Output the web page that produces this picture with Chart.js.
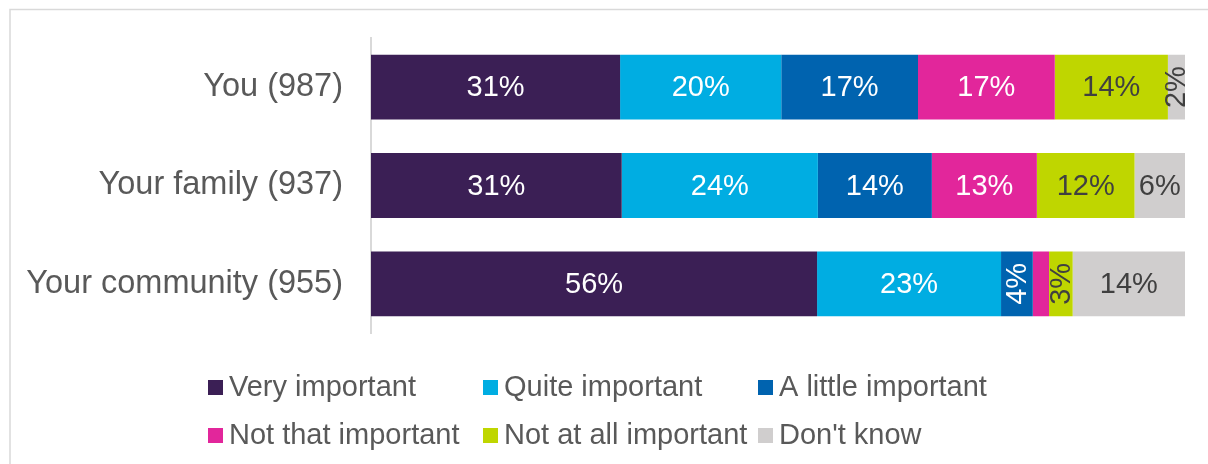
<!DOCTYPE html>
<html>
<head>
<meta charset="utf-8">
<script src="https://cdn.jsdelivr.net/npm/chart.js@4/dist/chart.umd.min.js"></script>
<style>
  html, body { margin: 0; padding: 0; background: #fff; }
  #wrap { width: 1208px; height: 464px; }
</style>
</head>
<body>
<div id="wrap"><canvas id="importanceChart" width="1208" height="464"></canvas></div>
<script>
// categories (respondent base in brackets)
const categories = ['You (987)', 'Your family (937)', 'Your community (955)'];
const seriesNames = ['Very important', 'Quite important', 'A little important',
                     'Not that important', 'Not at all important', "Don't know"];
const seriesColors = ['#3b1f55', '#00ade2', '#0063af', '#e2269b', '#bfd600', '#d0cece'];
const labelColors = ['#ffffff', '#ffffff', '#ffffff', '#ffffff', '#404040', '#404040'];

// bar widths (% of respondents)
const veryImportant = [30.6, 30.8, 54.8];
const quiteImportant = [19.8, 24.1, 22.6];
const littleImportant = [16.8, 14.0, 3.9];
const notThatImportant = [16.8, 12.9, 2.0];
const notAtAllImportant = [13.9, 12.0, 2.9];
const dontKnow = [2.1, 6.2, 13.8];

// printed labels (null = no label shown)
const veryLabels = ['31%', '31%', '56%'];
const quiteLabels = ['20%', '24%', '23%'];
const littleLabels = ['17%', '14%', '4%'];
const notThatLabels = ['17%', '13%', null];
const notAtAllLabels = ['14%', '12%', '3%'];
const dontKnowLabels = ['2%', '6%', '14%'];

const seriesData = [veryImportant, quiteImportant, littleImportant, notThatImportant, notAtAllImportant, dontKnow];
const seriesLabels = [veryLabels, quiteLabels, littleLabels, notThatLabels, notAtAllLabels, dontKnowLabels];

const FONT = '"Liberation Sans", Arial, sans-serif';

// frame lines at top and left
const framePlugin = {
    id: 'frame',
    beforeDraw(chart) {
        const ctx = chart.ctx;
        ctx.save();
        ctx.strokeStyle = '#d9d9d9';
        ctx.lineWidth = 1.5;
        ctx.beginPath();
        ctx.moveTo(10, chart.height);
        ctx.lineTo(10, 9.5);
        ctx.lineTo(chart.width, 9.5);
        ctx.stroke();
        ctx.restore();
    }
};

// value labels inside the bars, rotated when the bar is too narrow
const barLabelPlugin = {
    id: 'barLabels',
    afterDatasetsDraw(chart) {
        const ctx = chart.ctx;
        ctx.save();
        ctx.font = '29px ' + FONT;
        ctx.textAlign = 'center';
        ctx.textBaseline = 'middle';
        chart.data.datasets.forEach((ds, i) => {
            const meta = chart.getDatasetMeta(i);
            meta.data.forEach((bar, j) => {
                const txt = seriesLabels[i][j];
                if (!txt) return;
                const w = Math.abs(bar.x - bar.base);
                const cx = (bar.x + bar.base) / 2;
                const cy = bar.y;
                ctx.fillStyle = labelColors[i];
                const tw = ctx.measureText(txt).width;
                if (w < tw + 4) {
                    ctx.save();
                    ctx.translate(cx, cy);
                    ctx.rotate(-Math.PI / 2);
                    ctx.fillText(txt, 0, 1);
                    ctx.restore();
                } else {
                    ctx.fillText(txt, cx, cy + 1);
                }
            });
        });
        ctx.restore();
    }
};

// legend laid out as a 3-column grid
const gridLegendPlugin = {
    id: 'gridLegend',
    afterDraw(chart) {
        const ctx = chart.ctx;
        ctx.save();
        ctx.font = '29px ' + FONT;
        ctx.textAlign = 'left';
        ctx.textBaseline = 'alphabetic';
        seriesNames.forEach((name, i) => {
            const col = i % 3;
            const row = Math.floor(i / 3);
            const x = 208 + col * 275;
            const base = 396 + row * 48;
            ctx.fillStyle = seriesColors[i];
            ctx.fillRect(x, base - 16, 15, 15);
            ctx.fillStyle = '#595959';
            ctx.fillText(name, x + 21, base);
        });
        ctx.restore();
    }
};

const datasets = seriesNames.map((name, i) => ({
    label: name,
    data: seriesData[i],
    backgroundColor: seriesColors[i],
    borderWidth: 0,
    barPercentage: 0.66,
    categoryPercentage: 1.0
}));

new Chart(document.getElementById('importanceChart').getContext('2d'), {
    type: 'bar',
    data: { labels: categories, datasets: datasets },
    options: {
        indexAxis: 'y',
        responsive: false,
        animation: false,
        layout: { padding: { left: 10, right: 23, top: 38, bottom: 131 } },
        plugins: {
            legend: { display: false },
            tooltip: { enabled: false }
        },
        scales: {
            x: { stacked: true, min: 0, max: 100, display: false },
            y: {
                stacked: true,
                grid: { display: false, drawTicks: false },
                border: { display: true, color: '#d9d9d9', width: 2 },
                ticks: {
                    color: '#595959',
                    font: { family: FONT, size: 32.5 },
                    padding: 28
                },
                afterFit(scale) {
                    scale.width = 361;
                    // labels sit at bar centres, no extra room needed above/below
                    scale.paddingTop = 0;
                    scale.paddingBottom = 0;
                }
            }
        }
    },
    plugins: [framePlugin, barLabelPlugin, gridLegendPlugin]
});
</script>
</body>
</html>
